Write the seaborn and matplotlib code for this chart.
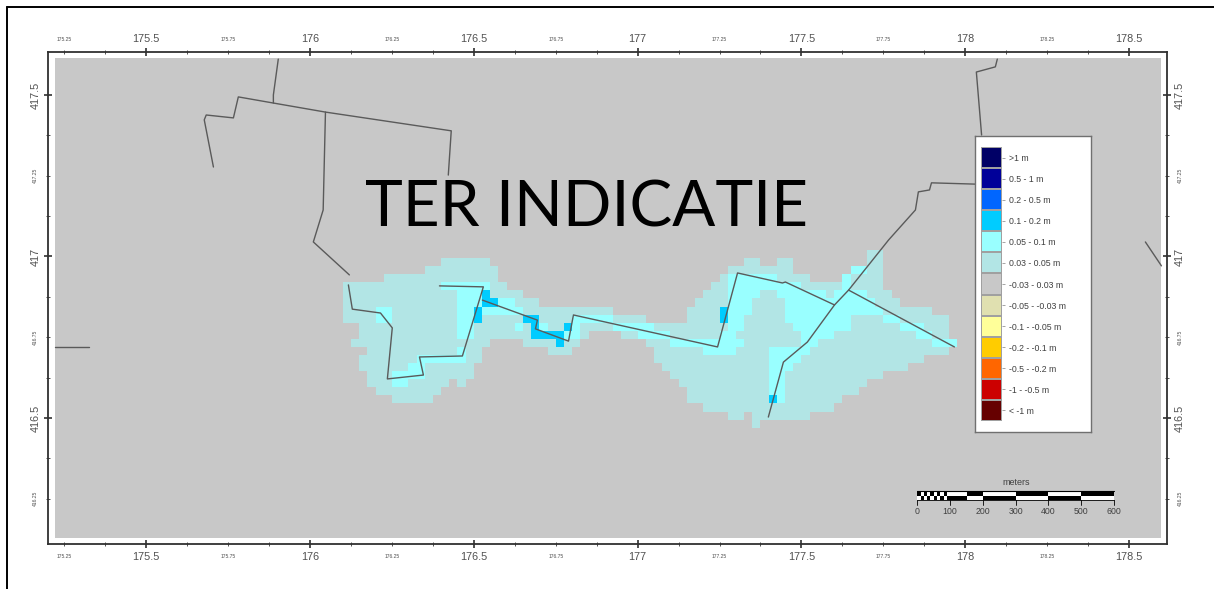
import numpy as np
import pandas as pd
import matplotlib
matplotlib.use("Agg")
import matplotlib.pyplot as plt
from matplotlib.colors import ListedColormap
from matplotlib.lines import Line2D
from matplotlib.ticker import FixedLocator, FuncFormatter
import seaborn as sns

# legend classes, wettest to driest
CLASS_LABELS = [">1 m", "0.5 - 1 m", "0.2 - 0.5 m", "0.1 - 0.2 m", "0.05 - 0.1 m", "0.03 - 0.05 m",
                "-0.03 - 0.03 m", "-0.05 - -0.03 m", "-0.1 - -0.05 m", "-0.2 - -0.1 m",
                "-0.5 - -0.2 m", "-1 - -0.5 m", "< -1 m"]
CLASS_COLORS = ["#000066", "#000099", "#0066ff", "#00ccff", "#99ffff", "#b2e5e5", "#c8c8c8",
                "#e0e0b0", "#ffff99", "#ffcc00", "#ff6600", "#cc0000", "#660000"]

CELLS_003 = {
    -1: [(64, 66)],
    0: [(12, 18), (49, 51), (53, 55), (64, 66)],
    1: [(10, 19), (47, 55), (62, 66)],
    2: [(5, 19), (46, 57), (61, 66)],
    3: [(0, 20), (45, 66)],
    4: [(0, 22), (44, 67)],
    5: [(0, 24), (43, 68)],
    6: [(0, 33), (42, 72)],
    7: [(0, 37), (42, 74)],
    8: [(2, 74)],
    9: [(2, 30), (34, 74)],
    10: [(1, 18), (22, 29), (37, 75)],
    11: [(3, 17), (25, 28), (38, 74)],
    12: [(2, 17), (38, 71)],
    13: [(2, 16), (39, 69)],
    14: [(3, 16), (40, 66)],
    15: [(3, 13), (14, 15), (41, 64)],
    16: [(4, 12), (42, 63)],
    17: [(6, 11), (42, 61)],
    18: [(44, 60)],
    19: [(47, 49), (50, 57)],
    20: [(50, 51)],
}
CELLS_005 = {
    1: [(62, 64)],
    2: [(47, 53), (61, 62)],
    3: [(12, 18), (47, 56), (61, 62)],
    4: [(14, 17), (47, 51), (53, 59), (60, 64)],
    5: [(14, 17), (19, 21), (47, 50), (54, 65)],
    6: [(4, 6), (14, 16), (17, 22), (47, 50), (54, 66)],
    7: [(4, 6), (14, 16), (28, 33), (47, 49), (54, 62), (66, 68)],
    8: [(14, 16), (21, 22), (24, 25), (28, 29), (33, 38), (47, 49), (55, 62), (68, 71)],
    9: [(14, 16), (27, 29), (36, 40), (46, 48), (56, 60), (70, 72)],
    10: [(40, 49), (56, 58), (72, 75)],
    11: [(14, 15), (44, 48), (52, 57)],
    12: [(9, 15), (52, 56)],
    13: [(8, 10), (52, 55)],
    14: [(6, 10), (52, 54)],
    15: [(6, 8), (52, 54)],
    16: [(52, 54)],
    17: [(53, 54)],
}
CELLS_01 = {
    4: [(17, 18)],
    5: [(17, 19)],
    6: [(16, 17), (46, 47)],
    7: [(16, 17), (22, 24), (46, 47)],
    8: [(23, 24), (27, 28)],
    9: [(23, 27)],
    10: [(26, 27)],
    17: [(52, 53)],
}

# network lines in map coordinates
ROADS = {
    "a": [(175.705, 417.277), (175.677, 417.423), (175.683, 417.438), (175.766, 417.429), (175.781, 417.494),
          (175.888, 417.475), (176.047, 417.447), (176.431, 417.389), (176.422, 417.252)],
    "b": [(175.903, 417.611), (175.888, 417.5), (175.888, 417.475)],
    "c": [(176.047, 417.447), (176.040, 417.144), (176.010, 417.045), (176.120, 416.943)],
    "d": [(176.117, 416.912), (176.129, 416.837), (176.215, 416.825), (176.251, 416.779), (176.236, 416.621),
          (176.346, 416.633), (176.334, 416.689), (176.465, 416.692), (176.529, 416.906), (176.395, 416.909)],
    "e": [(176.526, 416.865), (176.694, 416.803), (176.688, 416.776), (176.789, 416.738), (176.804, 416.819),
          (177.244, 416.72), (177.305, 416.949), (177.442, 416.918), (177.451, 416.921), (177.601, 416.85)],
    "f": [(177.399, 416.503), (177.445, 416.673), (177.518, 416.735), (177.601, 416.85), (177.644, 416.896),
          (177.766, 417.051), (177.848, 417.144), (177.857, 417.2), (177.891, 417.206), (177.897, 417.228),
          (178.031, 417.224)],
    "g": [(177.644, 416.896), (177.967, 416.72)],
    "h": [(178.098, 417.611), (178.092, 417.587), (178.034, 417.571), (178.05, 417.376)],
    "i": [(178.55, 417.045), (178.599, 416.971)],
    "j": [(175.222, 416.72), (175.326, 416.72)],
}

X_MAJOR = [175.5, 176, 176.5, 177, 177.5, 178, 178.5]
Y_MAJOR = [416.5, 417, 417.5]
SCALE_TICKS = [0, 100, 200, 300, 400, 500, 600]
SCALE_EDGES = [100, 150, 200, 300, 400, 500, 600]

W, H = 1214, 589
sns.set_theme(style="white")
plt.rcParams["font.family"] = ["Liberation Sans", "DejaVu Sans"]


def px_axes(fig, x0, y0, x1, y1, **kw):
    return fig.add_axes([x0 / W, 1 - y1 / H, (x1 - x0) / W, (y1 - y0) / H], **kw)


def small_label(v, pos=None):
    return f"{v:g}" if abs(v * 4 - round(v * 4)) < 1e-6 else ""


def build_grid():
    grid = np.full((22, 76), -1)
    for value, cells in [(0, CELLS_003), (1, CELLS_005), (2, CELLS_01)]:
        for row, spans in cells.items():
            for start, end in spans:
                grid[row + 1, start:end] = value
    return grid


fig = plt.figure(figsize=(W / 100, H / 100), dpi=100, facecolor="white")
fig.add_artist(Line2D([7 / W, 7 / W], [0, 1 - 7 / H], color="black", lw=1.4))
fig.add_artist(Line2D([7 / W, 1], [1 - 7 / H, 1 - 7 / H], color="black", lw=1.4))

ax = px_axes(fig, 48, 52, 1167, 544)
ax.set_xlim(175.2, 178.616)
ax.set_ylim(416.11, 417.633)
ax.add_patch(plt.Rectangle((175.222, 416.128), 3.377, 1.487, color=CLASS_COLORS[6], lw=0, zorder=1))

for s in ax.spines.values():
    s.set_linewidth(1.3)
    s.set_color("#303030")
ax.xaxis.set_major_locator(FixedLocator(X_MAJOR))
ax.yaxis.set_major_locator(FixedLocator(Y_MAJOR))
ax.xaxis.set_minor_locator(FixedLocator(np.arange(175.25, 178.6, 0.125)))
ax.yaxis.set_minor_locator(FixedLocator(np.arange(416.25, 417.6, 0.125)))
ax.xaxis.set_major_formatter(FuncFormatter(lambda v, p: f"{v:g}"))
ax.yaxis.set_major_formatter(FuncFormatter(lambda v, p: f"{v:g}"))
ax.xaxis.set_minor_formatter(FuncFormatter(small_label))
ax.yaxis.set_minor_formatter(FuncFormatter(small_label))
ax.tick_params(which="both", bottom=True, top=True, left=True, right=True,
               labelbottom=True, labeltop=True, labelleft=True, labelright=True)
ax.tick_params(which="major", direction="inout", length=6, width=1.2, color="#303030",
               labelsize=7.8, labelcolor="#505050", pad=2.5)
ax.tick_params(which="minor", direction="inout", length=3, width=0.7, color="#505050",
               labelsize=3.6, labelcolor="#505050", pad=6)
ax.tick_params(axis="y", which="both", labelrotation=90)
for lab in ax.get_yticklabels(which="both"):
    lab.set_va("center")

# flooded cells, 25 m grid, placed on the map by its corner coordinates
grid = build_grid()
cell_ax = ax.inset_axes([176.10, 416.47, 1.9, 0.55], transform=ax.transData)
sns.heatmap(grid, mask=grid < 0, cmap=ListedColormap([CLASS_COLORS[5], CLASS_COLORS[4], CLASS_COLORS[3]]),
            vmin=0, vmax=2, cbar=False, xticklabels=False, yticklabels=False, ax=cell_ax)
cell_ax.patch.set_visible(False)
cell_ax.set_axis_off()

roads = pd.DataFrame(
    [(name, x, y) for name, pts in ROADS.items() for x, y in pts],
    columns=["road", "x", "y"],
)
sns.lineplot(data=roads, x="x", y="y", units="road", estimator=None, sort=False,
             color="#5a5a5a", lw=1.0, legend=False, zorder=6, ax=ax)
ax.set_xlabel("")
ax.set_ylabel("")

ax.text(176.844, 417.148, "TER INDICATIE", family="Lato", fontsize=46, color="black",
        ha="center", va="center", zorder=7)

# scale bar, upper and lower strip alternate black and white
km = 0.001
bar_x = 177.854
upper, lower = 416.26, 416.246
checks = np.arange(0, 100, 10)
for i, m in enumerate(checks):
    ax.bar(bar_x + m * km, 0.014, 10 * km, upper, align="edge", lw=0,
           color="black" if i % 2 == 0 else "white", zorder=6)
    ax.bar(bar_x + m * km, 0.014, 10 * km, lower, align="edge", lw=0,
           color="white" if i % 2 == 0 else "black", zorder=6)
for i, (a, b) in enumerate(zip(SCALE_EDGES[:-1], SCALE_EDGES[1:])):
    ax.bar(bar_x + a * km, 0.014, (b - a) * km, upper, align="edge", lw=0,
           color="white" if i % 2 == 0 else "black", zorder=6)
    ax.bar(bar_x + a * km, 0.014, (b - a) * km, lower, align="edge", lw=0,
           color="black" if i % 2 == 0 else "white", zorder=6)
ax.plot([bar_x, bar_x + 0.6], [upper + 0.014] * 2, color="black", lw=0.8, zorder=6)
ax.plot([bar_x, bar_x + 0.6], [lower] * 2, color="black", lw=0.6, zorder=6)
for m in SCALE_TICKS:
    ax.plot([bar_x + m * km] * 2, [lower - 0.014, lower], color="black", lw=0.6, zorder=6)
    ax.text(bar_x + m * km, lower - 0.034, str(m), fontsize=6.3, color="#404040", ha="center", va="center", zorder=7)
ax.text(bar_x + 0.3, 416.30, "meters", fontsize=6.5, color="#404040", ha="center", va="center", zorder=7)

# legend box
box = px_axes(fig, 975, 136, 1091, 432, zorder=8)
box.set_xticks([])
box.set_yticks([])
for s in box.spines.values():
    s.set_color("#707070")
    s.set_linewidth(1.0)

key = px_axes(fig, 981, 147, 1002, 421, zorder=9)
sns.heatmap(np.arange(13).reshape(-1, 1), cmap=ListedColormap(CLASS_COLORS), cbar=False,
            linewidths=0.3, linecolor="#a0a0a0", xticklabels=False, yticklabels=CLASS_LABELS, ax=key)
key.yaxis.tick_right()
key.tick_params(axis="y", length=2, width=0.5, color="#808080", labelsize=6.3, labelcolor="#404040",
                labelrotation=0, pad=3)

fig.savefig("out.png", dpi=100)
